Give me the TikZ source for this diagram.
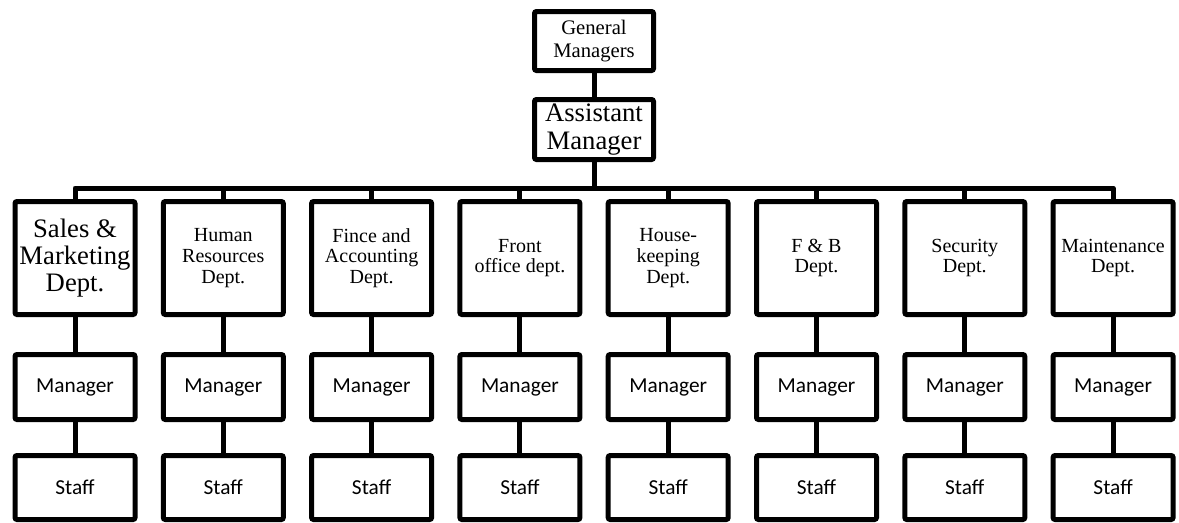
\documentclass[tikz,border=0pt]{standalone}
\usepackage{fontspec}
\setmainfont{Liberation Serif}
\newfontfamily\bodyfont{Carlito}
\usetikzlibrary{positioning}

\tikzset{
    box/.style={draw=black, line width=3.75pt, rounded corners=1.5pt, fill=white,
        align=center, inner sep=1pt, outer sep=0pt},
    deptbox/.style={box, minimum width=90pt, minimum height=84.75pt},
    staffbox/.style={box, minimum width=90pt, minimum height=48.75pt,
        font=\bodyfont\fontsize{16}{18}\selectfont},
    link/.style={line width=3.75pt, line join=round}
}

\begin{document}
\begin{tikzpicture}[x=0.75pt, y=-0.75pt]
    \useasboundingbox (0,0) rectangle (1179,522);

    % Top of the chart
    \node[box, minimum width=89.25pt, minimum height=44.25pt, font=\fontsize{15.5}{17}\selectfont] (gm) at (594,41) {General\\Managers};
    \node[box, minimum width=89.25pt, minimum height=45pt, font=\fontsize{20}{20.5}\selectfont] (am) at (594,129.5) {Assistant\\Manager};
    \coordinate (bus) at (594,188);

    % Departments with their manager and staff
    \foreach \i/\dept [count=\k from 0] in {
        1/{Sales \&\\Marketing\\Dept.},
        2/{Human\\Resources\\Dept.},
        3/{Fince and\\Accounting\\Dept.},
        4/{Front\\office dept.},
        5/{House-\\keeping\\Dept.},
        6/{F \& B\\Dept.},
        7/{Security\\Dept.},
        8/{Maintenance\\Dept.}}
    {
        \pgfmathsetmacro{\xc}{75+148.3*\k}
        \ifnum\i=1 \def\deptfont{\fontsize{20}{20.5}\selectfont}\else\def\deptfont{\fontsize{15}{15.5}\selectfont}\fi
        \node[deptbox, font=\deptfont] (d\i) at (\xc,258) {\dept};
        \node[staffbox] (m\i) at (\xc,387) {Manager};
        \node[staffbox, minimum height=48pt] (s\i) at (\xc,487.5) {Staff};
        \draw[link] (d\i.north) |- (bus);
        \draw[link] (d\i.south) -- (m\i.north);
        \draw[link] (m\i.south) -- (s\i.north);
    }

    % Chain down from the general managers
    \draw[link] (gm.south) -- (am.north);
    \draw[link] (am.south) -- (bus);
\end{tikzpicture}
\end{document}
